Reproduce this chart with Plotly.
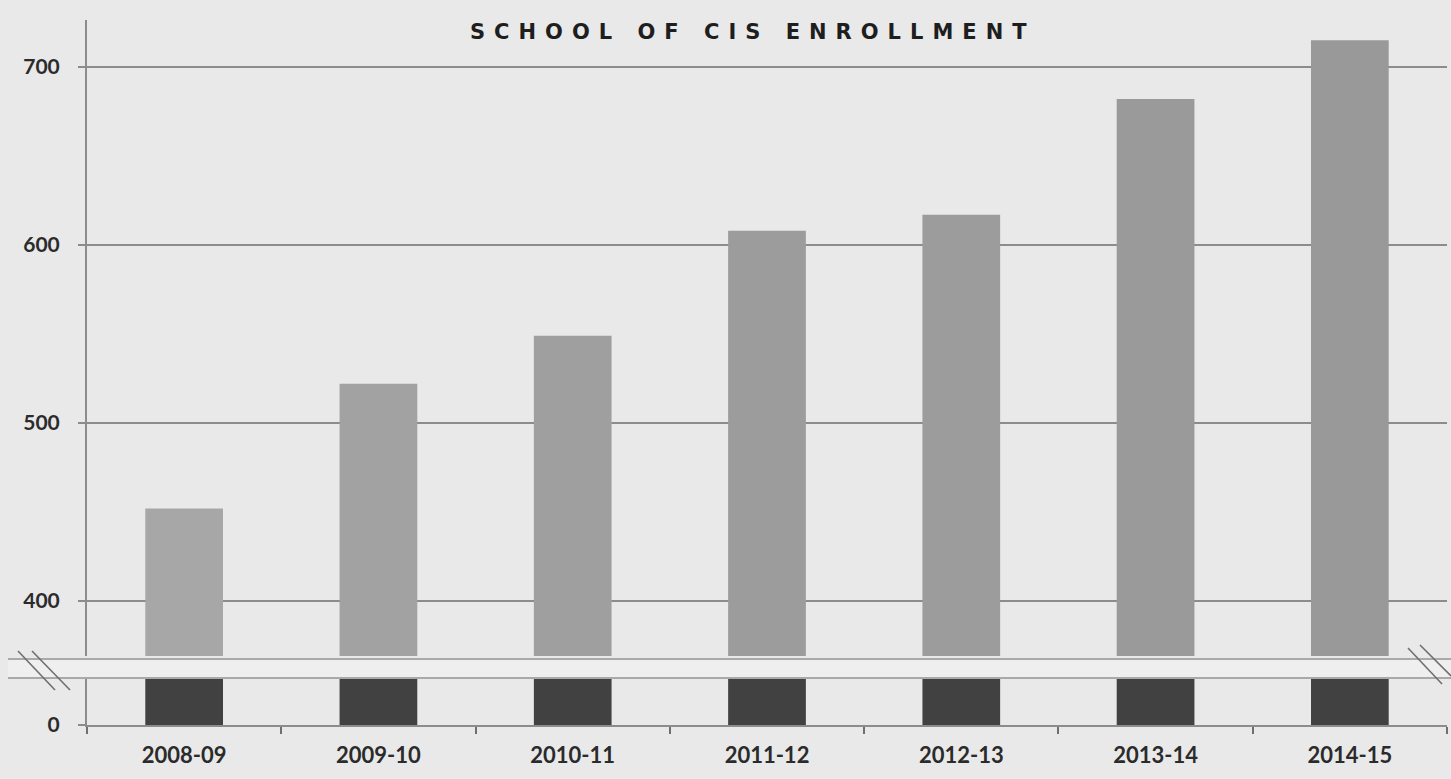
import plotly.graph_objects as go

# ---- data ----
categories = ["2008-09", "2009-10", "2010-11", "2011-12", "2012-13", "2013-14", "2014-15"]
enrollment = [452, 522, 549, 608, 617, 682, 715]
upper_ticks = [400, 500, 600, 700]
lower_ticks = [0]
title_text = "SCHOOL OF CIS ENROLLMENT"

# ---- style ----
W, H = 1451, 779
ML, MR, MT, MB = 87, 4, 20, 54
PW, PH = W - ML - MR, H - MT - MB
BG = "#e9e9e9"
upper_colors = ["#a7a7a7", "#a2a2a2", "#9f9f9f", "#9c9c9c", "#9c9c9c", "#9a9a9a", "#999999"]
lower_color = "#414141"
grid_col = "#8c8c8c"
txt_col = "#2b2b2b"


def px_x(p):
    return (p - ML) / PW


def px_y(p):
    return (H - MB - p) / PH


upper_bottom_px, lower_top_px = 656, 678
fig = go.Figure()
fig.add_trace(go.Bar(x=categories, y=enrollment, marker=dict(color=upper_colors, line=dict(width=0)),
                     xaxis="x", yaxis="y", showlegend=False))
fig.add_trace(go.Bar(x=categories, y=enrollment, marker=dict(color=lower_color, line=dict(width=0)),
                     xaxis="x", yaxis="y2", showlegend=False))

# upper axis range from pixel geometry: 100 units = 178 px, 400 at pixel 601
ppu = 1.78
up_lo = 400 - (upper_bottom_px - 601) / ppu
up_hi = 400 + (601 - MT) / ppu

shapes = []
# break band
shapes.append(dict(type="rect", xref="paper", yref="paper", x0=px_x(8), x1=px_x(1451),
                   y0=px_y(678), y1=px_y(659), fillcolor="#efefef", line=dict(width=0), layer="above"))
for yy in (659, 678):
    shapes.append(dict(type="line", xref="paper", yref="paper", x0=px_x(8), x1=px_x(1451),
                       y0=px_y(yy), y1=px_y(yy), line=dict(color="#a9a9a9", width=2), layer="above"))
# break slashes
for (x0, y0, x1, y1) in [(18, 651, 55, 690), (32, 651, 70, 690),
                         (1408, 648, 1442, 684), (1420, 645, 1451, 676)]:
    shapes.append(dict(type="line", xref="paper", yref="paper", x0=px_x(x0), x1=px_x(x1),
                       y0=px_y(y0), y1=px_y(y1), line=dict(color="#6f6f6f", width=1.6), layer="above"))

fig.update_layout(
    width=W, height=H,
    margin=dict(l=ML, r=MR, t=MT, b=MB),
    paper_bgcolor=BG, plot_bgcolor=BG,
    bargap=0.6,
    shapes=shapes,
    font=dict(family="Lato", color=txt_col),
    xaxis=dict(type="category", anchor="y2", showgrid=False, showline=True, linecolor=grid_col, linewidth=2,
               ticks="outside", tickson="boundaries", ticklen=7, tickcolor="#6f6f6f", tickwidth=2,
               tickfont=dict(family="Lato", size=22, color=txt_col, weight=700),
               ticklabelstandoff=10, fixedrange=True),
    yaxis=dict(domain=[px_y(upper_bottom_px), 1], range=[up_lo, up_hi], tickvals=upper_ticks,
               showgrid=True, gridcolor=grid_col, gridwidth=2, zeroline=False,
               showline=True, linecolor=grid_col, linewidth=2,
               ticks="outside", ticklen=7, tickcolor=grid_col, tickwidth=2,
               tickfont=dict(family="Lato", size=21, color=txt_col, weight=700),
               ticklabelstandoff=14),
    yaxis2=dict(domain=[0, px_y(lower_top_px)], range=[0, 27], tickvals=lower_ticks,
                showgrid=False, zeroline=False, showline=True, linecolor=grid_col, linewidth=2,
                ticks="outside", ticklen=7, tickcolor=grid_col, tickwidth=2,
                tickfont=dict(family="Lato", size=21, color=txt_col, weight=700),
                ticklabelstandoff=14),
    annotations=[dict(text='<span style="letter-spacing:9px">' + title_text + '</span>',
                      xref="paper", yref="paper", x=px_x(753), y=px_y(32),
                      xanchor="center", yanchor="middle", showarrow=False,
                      font=dict(family="DejaVu Sans", size=21, color="#1e1e1e", weight=900))],
)

fig.write_html("out.html")
